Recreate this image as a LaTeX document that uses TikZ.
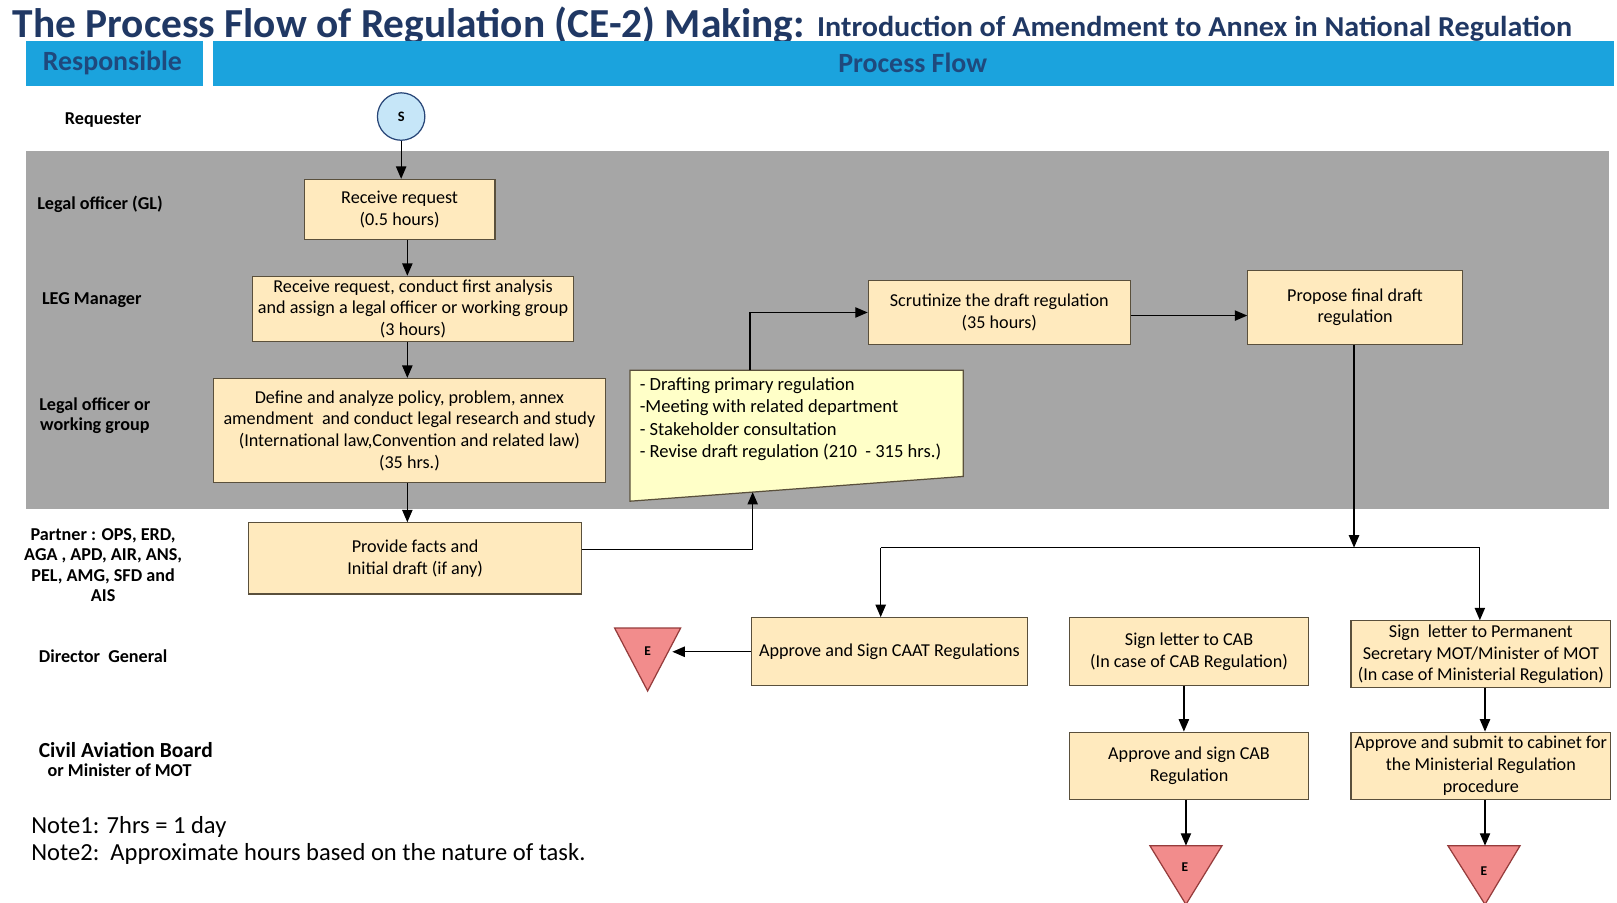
\documentclass[tikz,border=0pt]{standalone}
\usepackage{fontspec}
\setmainfont{Carlito}
\usetikzlibrary{arrows.meta,calc}
\definecolor{titleblue}{RGB}{32,56,100}
\definecolor{headblue}{RGB}{27,163,221}
\definecolor{headtext}{RGB}{31,73,125}
\definecolor{lanegray}{RGB}{166,166,166}
\definecolor{boxfill}{RGB}{255,234,190}
\definecolor{boxline}{RGB}{90,80,60}
\definecolor{notefill}{RGB}{255,255,200}
\definecolor{endfill}{RGB}{242,140,140}
\definecolor{endline}{RGB}{150,60,60}
\definecolor{startfill}{RGB}{198,230,248}
\definecolor{startline}{RGB}{40,70,120}
\begin{document}
\begin{tikzpicture}[x=0.5pt,y=-0.5pt,
  stepbox/.style={draw=boxline, line width=0.6pt, fill=boxfill, align=center,
    font=\fontsize{8.8}{10.5}\selectfont, inner sep=1pt},
  lane/.style={font=\bfseries\fontsize{8.8}{10}\selectfont, align=center},
  arr/.style={-{Triangle[length=6pt,width=5pt]}, line width=0.6pt},
  link/.style={line width=0.6pt},
  endmark/.style={draw=endline, fill=endfill, line width=0.6pt},
  endtext/.style={font=\bfseries\fontsize{6.5}{7}\selectfont},
  header/.style={fill=headblue, draw=none},
  headlabel/.style={text=headtext, font=\bfseries\fontsize{13.5}{15}\selectfont},
  notetext/.style={anchor=west, font=\fontsize{11.9}{13}\selectfont, inner sep=0pt}]
\useasboundingbox (0,0) rectangle (1568,875);
\fill[white] (0,0) rectangle (1568,875);

% title
\node[anchor=base west, text=titleblue, inner sep=0pt] (title) at (12,36)
  {\resizebox{384pt}{\height}{\bfseries\fontsize{20}{24}\selectfont The Process Flow of Regulation (CE-2) Making:}};
\node[anchor=base west, text=titleblue, inner sep=0pt] (subtitle) at (792,35)
  {\resizebox{366pt}{\height}{\bfseries\fontsize{14}{16}\selectfont Introduction of Amendment to Annex in National Regulation}};

% header bars
\fill[header] (25,40) rectangle (197,83);
\fill[header] (207,40) rectangle (1565,83);
\node[headlabel] (hresp) at (109,61) {Responsible};
\node[headlabel] (hflow) at (885,61) {Process Flow};

% shaded lane band
\fill[lanegray] (25,146) rectangle (1560,494);

% lane labels
\node[lane] (lreq) at (100,116) {Requester};
\node[lane] (lgl) at (97,198) {Legal officer (GL)};
\node[lane] (lleg) at (89,291) {LEG Manager};
\node[lane] (lwg) at (92,403) {Legal officer or\\working group};
\node[lane] (lpart) at (100,548) {Partner : OPS, ERD,\\AGA , APD, AIR, ANS,\\PEL, AMG, SFD and\\AIS};
\node[lane] (ldg) at (100,636) {Director\ \ General};
\node[font=\bfseries\fontsize{10.4}{11}\selectfont] (lcab) at (122,727) {Civil Aviation Board};
\node[lane] (lmot) at (116,747) {or Minister of MOT};

% notes
\node[notetext] (note1) at (30,802) {Note1: 7hrs = 1 day};
\node[notetext] (note2) at (30,828) {Note2:\ \ Approximate hours based on the nature of task.};

% start
\node[circle, draw=startline, fill=startfill, line width=0.6pt, minimum size=23pt, inner sep=0pt,
  font=\bfseries\fontsize{7}{8}\selectfont] (start) at (389,113) {S};

% process steps
\node[stepbox, minimum width=92.5pt, minimum height=29pt] (recv) at (387.5,203) {Receive request\\(0.5 hours)};
\node[stepbox, minimum width=155.5pt, minimum height=31.5pt] (analysis) at (400.5,299.5)
  {Receive request, conduct first analysis\\and assign a legal officer or working group\\(3 hours)};
\node[stepbox, minimum width=190pt, minimum height=50.5pt] (define) at (397,417.5)
  {Define and analyze policy, problem, annex\\amendment\ \ and conduct legal research and study\\(International law,Convention and related law)\\(35 hrs.)};
\node[stepbox, minimum width=161.5pt, minimum height=34.5pt] (provide) at (402.5,541.5)
  {Provide facts and\\Initial draft (if any)};
\node[stepbox, minimum width=127pt, minimum height=31pt] (scrut) at (969,303)
  {Scrutinize the draft regulation\\(35 hours)};
\node[stepbox, minimum width=104pt, minimum height=36pt] (propose) at (1314,298)
  {Propose final draft\\regulation};
\node[stepbox, minimum width=133.5pt, minimum height=33pt] (caat) at (862.5,632)
  {Approve and Sign CAAT Regulations};
\node[stepbox, minimum width=116pt, minimum height=33pt] (cabsign) at (1153,632)
  {Sign letter to CAB\\(In case of CAB Regulation)};
\node[stepbox, minimum width=126pt, minimum height=32.5pt] (motsign) at (1436,634.5)
  {Sign\ \ letter to Permanent\\Secretary MOT/Minister of MOT\\(In case of Ministerial Regulation)};
\node[stepbox, minimum width=116pt, minimum height=32.5pt] (cabappr) at (1153,742.5)
  {Approve and sign CAB\\Regulation};
\node[stepbox, minimum width=126pt, minimum height=32.5pt] (motappr) at (1436,742.5)
  {Approve and submit to cabinet for\\the Ministerial Regulation\\procedure};

% drafting box (manual input shape)
\coordinate (dtl) at (611,359);
\coordinate (dtr) at (934,359);
\coordinate (dbr) at (934,462);
\coordinate (dbl) at (611,486);
\filldraw[draw=boxline, fill=notefill, line width=0.6pt] (dtl) -- (dtr) -- (dbr) -- (dbl) -- cycle;
\node[anchor=north west, align=left, font=\fontsize{9}{10.75}\selectfont, inner sep=0pt] (draft) at (620,366)
  {- Drafting primary regulation\\-Meeting with related department\\- Stakeholder consultation\\- Revise draft regulation (210\ \ - 315 hrs.)};
\coordinate (draftin) at ($(dbl)!0.368!(dbr)$);
\coordinate (draftout) at ($(dtl)!0.360!(dtr)$);

% end markers
\filldraw[endmark] (596,609) -- (660,609) -- (628,670) -- cycle;
\node[endtext] (end1) at (628,631) {E};
\coordinate (end1in) at (652,632);
\filldraw[endmark] (1115,820) -- (1185,820) -- (1150,877) -- cycle;
\node[endtext] (end2) at (1149,841) {E};
\coordinate (end2in) at (1150,820);
\filldraw[endmark] (1404,820) -- (1474,820) -- (1440,877) -- cycle;
\node[endtext] (end3) at (1439,845) {E};
\coordinate (end3in) at (1440,820);

% connectors
\coordinate (spine) at (395,0);
\draw[arr] (start.south) -- (start.south |- recv.north);
\draw[arr] (recv.south -| spine) -- (analysis.north -| spine);
\draw[arr] (analysis.south -| spine) -- (define.north -| spine);
\draw[arr] (define.south -| spine) -- (provide.north -| spine);
\draw[arr] ([yshift=4.25pt]provide.east) -| (draftin);
\draw[arr] (draftout) |- (scrut.west);
\draw[arr] ([yshift=-1.5pt]scrut.east) -- ([yshift=-1.5pt]scrut.east -| propose.west);
\coordinate (split) at (1313,531);
\coordinate (leftdrop) at (854,0);
\coordinate (rightdrop) at (1435,0);
\draw[arr] (propose.south -| split) -- (split);
\draw[link] (split -| leftdrop) -- (split -| rightdrop);
\draw[arr] (split -| leftdrop) -- (caat.north -| leftdrop);
\draw[arr] (split -| rightdrop) -- (motsign.north -| rightdrop);
\draw[arr] (caat.west) -- (end1in);
\coordinate (cabline) at (1148,0);
\coordinate (motline) at (1440,0);
\draw[arr] (cabsign.south -| cabline) -- (cabappr.north -| cabline);
\draw[arr] (motsign.south -| motline) -- (motappr.north -| motline);
\draw[arr] (cabappr.south -| end2in) -- (end2in);
\draw[arr] (motappr.south -| end3in) -- (end3in);
\end{tikzpicture}
\end{document}
